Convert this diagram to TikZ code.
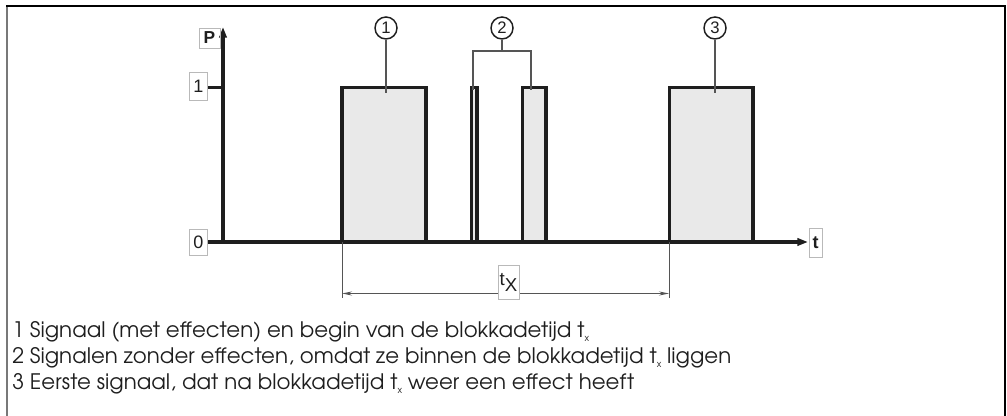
\documentclass[tikz,border=0pt]{standalone}
\usepackage{fontspec}
\setmainfont{Liberation Sans}
\newfontfamily\legendfont{texgyreadventor-regular.otf}
\usetikzlibrary{arrows.meta}

\definecolor{pulsefill}{RGB}{233,233,233}
\definecolor{inkdark}{RGB}{30,30,30}
\definecolor{boxgray}{RGB}{185,185,185}
\definecolor{leadgray}{RGB}{85,85,85}
\definecolor{framegray}{RGB}{120,120,120}

\tikzset{
  axisline/.style={draw=inkdark, line width=2.4pt, -{Triangle[length=8pt,width=5.5pt]}},
  pulse/.style={draw=inkdark, fill=pulsefill, line width=2.3pt},
  valbox/.style={draw=boxgray, line width=0.6pt, inner sep=0pt, text=inkdark, font=\fontsize{13.5}{13.5}\selectfont},
  callout/.style={circle, draw=inkdark, line width=1.1pt, minimum size=16.5pt, inner sep=0pt, text=inkdark, font=\fontsize{12.5}{12.5}\selectfont},
  leader/.style={draw=leadgray, line width=0.8pt},
  dimline/.style={draw=leadgray, line width=0.7pt, {Stealth[length=7.5pt,width=3pt]}-{Stealth[length=7.5pt,width=3pt]}},
  legendline/.style={anchor=base west, inner sep=0pt, text=inkdark, font=\legendfont\fontsize{16}{16}\selectfont}
}

\newcommand{\blocktime}{t\raisebox{-3pt}{\fontsize{7}{7}\selectfont x}}

\begin{document}
\begin{tikzpicture}[x=0.75pt,y=0.75pt,yscale=-1,xscale=1]
\useasboundingbox (0,0) rectangle (1007,416);
%Frame
\draw [framegray, line width=1.5pt] (7,417) -- (7,6) ;
\draw [black, line width=1.5pt] (6.3,6) -- (1005,6) -- (1005,417) ;

%Pulses
\draw [pulse] (342,242) -- (342,87.5) -- (426,87.5) -- (426,242) ;
\draw [pulse] (471.5,242) -- (471.5,87.5) -- (477,87.5) -- (477,242) ;
\draw [pulse] (522.5,242) -- (522.5,87.5) -- (546,87.5) -- (546,242) ;
\draw [pulse] (669.5,242) -- (669.5,87.5) -- (753,87.5) -- (753,242) ;

%Axes
\coordinate (origin) at (223,242) ;
\coordinate (ptop) at (223,27) ;
\coordinate (tend) at (808,242) ;
\draw [axisline] (origin) -- (ptop) ;
\draw [axisline] (208,242) -- (tend) ;
\draw [draw=inkdark, line width=2.4pt] (208,87.5) -- (223,87.5) ;

% Text Node
\node [valbox, minimum width=15.75pt, minimum height=15pt, font=\bfseries\fontsize{13}{13}\selectfont] (plabel) at (209.5,38) {P};
% Text Node
\node [valbox, minimum width=13.5pt, minimum height=21pt] (onelabel) at (198.3,86) {1};
% Text Node
\node [valbox, minimum width=13.5pt, minimum height=20pt] (zerolabel) at (198.3,242.5) {0};
% Text Node
\node [valbox, minimum width=9.75pt, minimum height=21.75pt, font=\bfseries\fontsize{13.5}{13.5}\selectfont] (tlabel) at (815.5,242.5) {t};

%Callouts
\node [callout] (c1) at (386,28) {1};
\node [callout] (c2) at (502,28) {2};
\node [callout] (c3) at (715,28) {3};
\coordinate (p1) at (386,93) ;
\coordinate (b2) at (502,51) ;
\coordinate (p2a) at (473,90) ;
\coordinate (p2b) at (531,90) ;
\coordinate (p3) at (715,93) ;
\draw [leader] (c1) -- (p1) ;
\draw [leader] (c2) -- (b2) ;
\draw [leader] (p2a) |- (b2) -| (p2b) ;
\draw [leader] (c3) -- (p3) ;

%Blocking time
\coordinate (dA) at (342,298) ;
\coordinate (dB) at (669,298) ;
\draw [leader, line width=0.7pt] (342,242) -- (dA) ;
\draw [leader, line width=0.7pt] (669,242) -- (dB) ;
\draw [dimline] (342,293.5) -- (669,293.5) ;
\node [valbox, fill=white, minimum width=15.75pt, minimum height=25.5pt, font=\fontsize{14}{14}\selectfont] (txlabel) at (508.5,282) {t\raisebox{-4.5pt}{X}};

%Legend
\node [legendline] (leg1) at (12,337.5) {1 Signaal (met effecten) en begin van de blokkadetijd \blocktime};
\node [legendline] (leg2) at (12,363.5) {2 Signalen zonder effecten, omdat ze binnen de blokkadetijd \blocktime{} liggen};
\node [legendline] (leg3) at (12,389.5) {3 Eerste signaal, dat na blokkadetijd \blocktime{} weer een effect heeft};
\end{tikzpicture}
\end{document}
